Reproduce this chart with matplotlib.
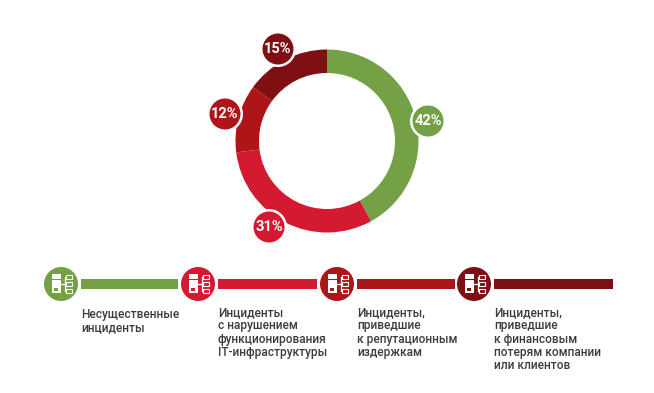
import matplotlib
matplotlib.use("Agg")
import matplotlib.pyplot as plt
from matplotlib.patches import Circle, Rectangle

shares = [42, 31, 12, 15]
share_labels = ["42%", "31%", "12%", "15%"]
colors = ["#74a046", "#d31a30", "#ae1518", "#7e0f12"]
captions = [
    "Несущественные\nинциденты",
    "Инциденты\nс нарушением\nфункционирования\nIT-инфраструктуры",
    "Инциденты,\nприведшие\nк репутационным\nиздержкам",
    "Инциденты,\nприведшие\nк финансовым\nпотерям компании\nили клиентов",
]
badge_x = [428, 269, 225, 278]
badge_y = [121, 227, 114, 49]
icon_x = [61, 198, 337, 474]
bar_start = [81, 218, 357, 494]
bar_end = [178, 317, 455, 613]
caption_y = [308, 306, 306, 306]

W, H = 654, 393
plt.rcParams['font.family'] = ['Roboto', 'DejaVu Sans']

fig = plt.figure(figsize=(W / 100, H / 100), dpi=100)
ax = fig.add_axes([0, 0, 1, 1])


def Y(y):  # picture pixels run downwards
    return H - y


def draw_icon(x, y, color):
    ax.add_patch(Circle((x, Y(y)), 17, fc=color, ec='none', zorder=3))
    # server block
    ax.add_patch(Rectangle((x - 9, Y(y + 9)), 9, 19, fc='white', ec='none', zorder=4))
    ax.plot([x - 9, x], [Y(y - 5), Y(y - 5)], color=color, lw=0.8, zorder=5)
    ax.add_patch(Rectangle((x - 7, Y(y + 7)), 4, 3, fc=color, ec='none', zorder=5))
    # links to the small boxes
    ax.plot([x - 2, x + 4], [Y(y), Y(y)], color='white', lw=0.9, zorder=4)
    ax.plot([x + 4, x + 4], [Y(y - 7), Y(y + 7)], color='white', lw=0.9, zorder=4)
    for dy in (-7, 0, 7):
        ax.add_patch(Rectangle((x + 5, Y(y + dy + 2)), 6, 4, fc='none', ec='white',
                               lw=0.8, zorder=4))


ax.pie(shares, colors=colors, startangle=90, counterclock=False,
       center=(327, Y(141)), radius=91.5, frame=False,
       wedgeprops=dict(width=23.5, edgecolor='none'))

for i in range(len(shares)):
    bx, by = badge_x[i], Y(badge_y[i])
    ax.add_patch(Circle((bx, by), 18, fc='white', ec='none', zorder=3))
    ax.add_patch(Circle((bx, by), 15.5, fc=colors[i], ec='none', zorder=4))
    ax.text(bx, by, share_labels[i], color='white', fontsize=10.5, fontweight='bold',
            ha='center', va='center', zorder=5)

for i in range(len(captions)):
    ax.add_patch(Rectangle((bar_start[i], Y(289)), bar_end[i] - bar_start[i], 10,
                           fc=colors[i], ec='none', zorder=2))
    draw_icon(icon_x[i], 284, colors[i])
    ax.text(bar_start[i], Y(caption_y[i]), captions[i], color='#3c3c3c', fontsize=8.6,
            fontweight='medium', ha='left', va='top', linespacing=1.03)

ax.set_xlim(0, W)
ax.set_ylim(0, H)
ax.set_aspect('auto')
ax.axis('off')

fig.savefig('out.png', dpi=100, facecolor='white')
